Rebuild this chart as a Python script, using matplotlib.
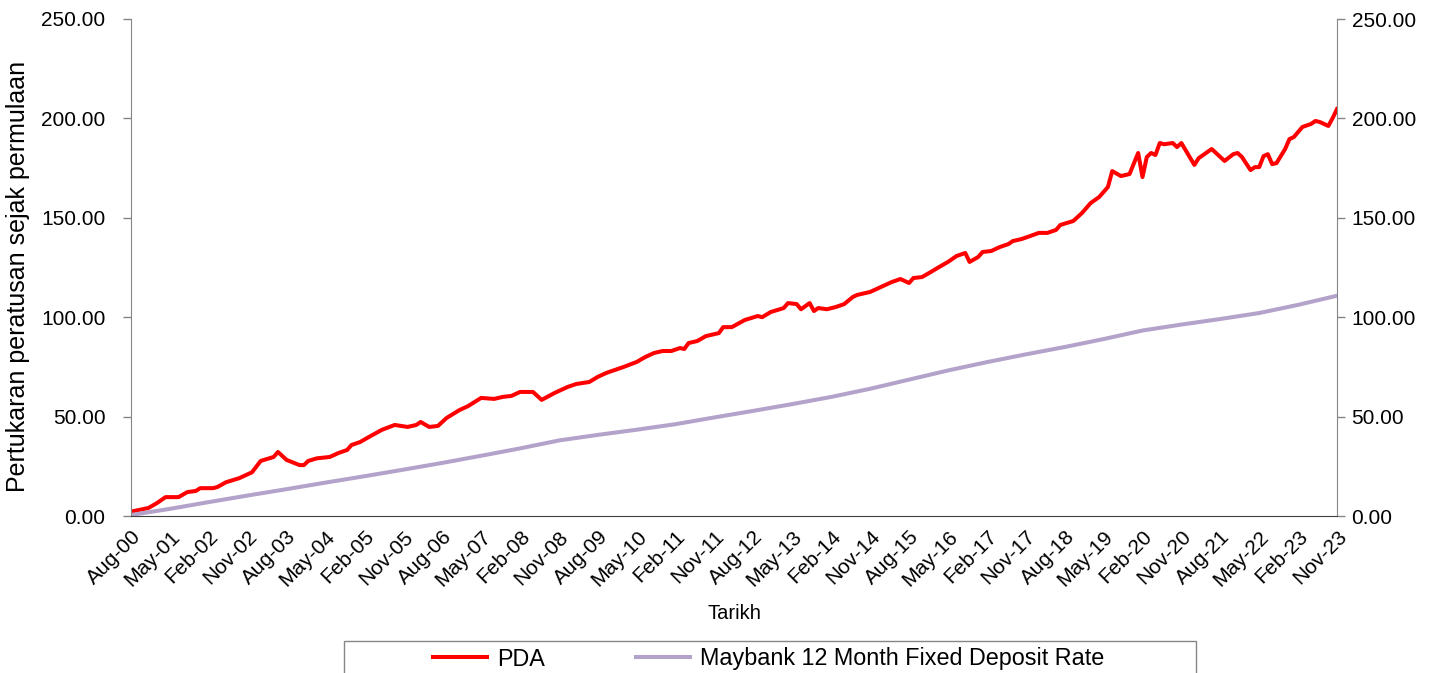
import matplotlib
matplotlib.use("Agg")
import matplotlib.pyplot as plt
from matplotlib.patches import Rectangle

# ---- data (month offsets counted from Aug-2000) ----
pda_months = [0, 4, 6, 8, 11, 13, 15, 16, 19, 20, 22, 25, 26, 28, 30, 33, 34, 36, 39, 40,
              41, 43, 46, 48, 50, 51, 53, 55, 58, 61, 64, 66, 67, 69, 71, 73, 76, 78, 81, 84,
              86, 88, 90, 93, 95, 98, 101, 103, 106, 108, 110, 114, 117, 119, 121, 123, 125, 127, 128, 129,
              131, 133, 136, 137, 139, 142, 145, 146, 148, 151, 152, 154, 155, 157, 158, 159, 161, 163, 165, 167,
              168, 171, 173, 176, 178, 180, 181, 183, 185, 187, 189, 191, 193, 194, 196, 197, 199, 201, 203, 204,
              206, 208, 210, 212, 214, 215, 218, 220, 222, 224, 226, 227, 229, 231, 233, 234, 235, 236, 237, 238,
              239, 241, 242, 243, 246, 247, 250, 251, 253, 255, 256, 257, 259, 260, 261, 262, 263, 264, 265, 267,
              268, 269, 271, 273, 274, 275, 277, 278, 279]
pda_values = [2.2, 4.0, 6.5, 9.5, 9.5, 12.0, 12.6, 14.0, 14.0, 14.6, 17.0, 19.0, 20.0, 22.0, 27.7, 29.7, 32.2, 28.2, 25.6, 25.6,
              27.7, 29.0, 29.7, 31.7, 33.2, 35.7, 37.2, 39.7, 43.3, 45.8, 44.8, 45.8, 47.3, 44.8, 45.3, 49.3, 53.3, 55.3, 59.4, 58.9,
              59.9, 60.4, 62.4, 62.4, 58.4, 61.9, 64.9, 66.4, 67.4, 70.0, 72.0, 75.0, 77.5, 80.0, 82.0, 83.0, 83.0, 84.5, 84.0, 87.0,
              88.0, 90.5, 92.0, 95.0, 95.0, 98.6, 100.6, 100.0, 102.6, 104.6, 107.1, 106.6, 104.0, 107.1, 103.1, 104.6, 104.0, 105.1, 106.6, 110.2,
              111.2, 112.7, 114.7, 117.7, 119.2, 117.2, 119.7, 120.2, 122.7, 125.3, 127.8, 130.8, 132.3, 127.8, 130.3, 132.8, 133.3, 135.3, 136.8, 138.3,
              139.3, 140.8, 142.4, 142.4, 143.9, 146.4, 148.4, 152.4, 157.4, 160.5, 165.5, 173.5, 171.0, 172.0, 182.6, 170.5, 180.6, 182.6, 181.6, 187.6,
              187.0, 187.6, 185.6, 187.6, 176.6, 180.0, 184.6, 182.6, 178.6, 182.0, 182.6, 180.6, 174.0, 175.5, 175.5, 181.0, 182.0, 177.0, 177.5, 184.6,
              189.6, 190.6, 195.7, 197.2, 198.7, 198.2, 196.2, 200.2, 204.7]

fd_months = [0, 9, 18, 27, 36, 45, 54, 63, 72, 81, 90, 99, 108, 117, 126, 135, 144, 153, 162, 171,
             180, 189, 198, 207, 216, 225, 234, 243, 252, 261, 270, 279]
fd_values = [0.5, 3.6, 7.0, 10.3, 13.5, 16.8, 20.0, 23.3, 26.7, 30.3, 34.0, 38.0, 40.8, 43.4, 46.2, 49.6, 52.9, 56.3, 59.9, 64.0,
             68.6, 73.2, 77.4, 81.3, 85.0, 89.0, 93.3, 96.3, 99.1, 102.1, 106.2, 110.8]

tick_labels = ["Aug-00", "May-01", "Feb-02", "Nov-02", "Aug-03", "May-04", "Feb-05", "Nov-05",
               "Aug-06", "May-07", "Feb-08", "Nov-08", "Aug-09", "May-10", "Feb-11", "Nov-11",
               "Aug-12", "May-13", "Feb-14", "Nov-14", "Aug-15", "May-16", "Feb-17", "Nov-17",
               "Aug-18", "May-19", "Feb-20", "Nov-20", "Aug-21", "May-22", "Feb-23", "Nov-23"]
series_names = ["PDA", "Maybank 12 Month Fixed Deposit Rate"]
y_ticks = [0, 50, 100, 150, 200, 250]

plt.rcParams['font.family'] = ['Liberation Sans', 'DejaVu Sans']

W, H = 1437, 673
fig = plt.figure(figsize=(W / 100, H / 100), dpi=100)
ax = fig.add_axes([131 / W, 1 - 516 / H, (1337 - 131) / W, (516 - 19) / H])

l1, = ax.plot(pda_months, pda_values, color="#FF0000", lw=2.9, solid_joinstyle="round")
l2, = ax.plot(fd_months, fd_values, color="#B3A3CB", lw=2.9, solid_joinstyle="round")
ax.set_zorder(2)

ax.set_xlim(0, 279)
ax.set_ylim(0, 250)
ax.set_yticks(y_ticks)
ax.set_yticklabels([f"{v:.2f}" for v in y_ticks], fontsize=15)
ax.set_xticks(list(range(0, 280, 9)))
ax.set_xticklabels(tick_labels, fontsize=15, rotation=45, ha="right", va="top",
                   rotation_mode="anchor")
ax.tick_params(axis="x", length=0, pad=8)
ax.tick_params(axis="y", length=6, width=1, color="#868686", direction="out", pad=12.5)

ax.spines["top"].set_visible(False)
ax.spines["left"].set_color("#868686")
ax.spines["right"].set_visible(False)
ax.spines["bottom"].set_color("#404040")
ax.patch.set_alpha(0)

ax2 = ax.twinx()
ax2.set_ylim(0, 250)
ax2.set_yticks(y_ticks)
ax2.set_yticklabels([f"{v:.2f}" for v in y_ticks], fontsize=15)
ax2.tick_params(axis="y", length=6, width=1, color="#868686", direction="out", pad=4.5)
ax2.spines["right"].set_color("#868686")
for s in ["top", "left", "bottom"]:
    ax2.spines[s].set_visible(False)
ax2.set_zorder(1)

fig.text(18 / W, 1 - 276 / H, "Pertukaran peratusan sejak permulaan", rotation=90,
         ha="center", va="center", fontsize=18)
ax.set_xlabel("Tarikh", fontsize=14.5, labelpad=10)

# legend frame (cut by the figure's bottom edge as in the reference)
fig.patches.append(Rectangle((344 / W, -0.05), (1196 - 344) / W, (673 - 641) / H + 0.05,
                             transform=fig.transFigure, fill=False, edgecolor="#868686", lw=1))
fig.legend([l1, l2], series_names, loc="center left", bbox_to_anchor=(433 / W, 1 - 659 / H),
           ncol=2, frameon=False, fontsize=16.8, borderpad=0, borderaxespad=0,
           handlelength=2.3, handletextpad=0.45, columnspacing=3.9)

fig.savefig("out.png", dpi=100)
